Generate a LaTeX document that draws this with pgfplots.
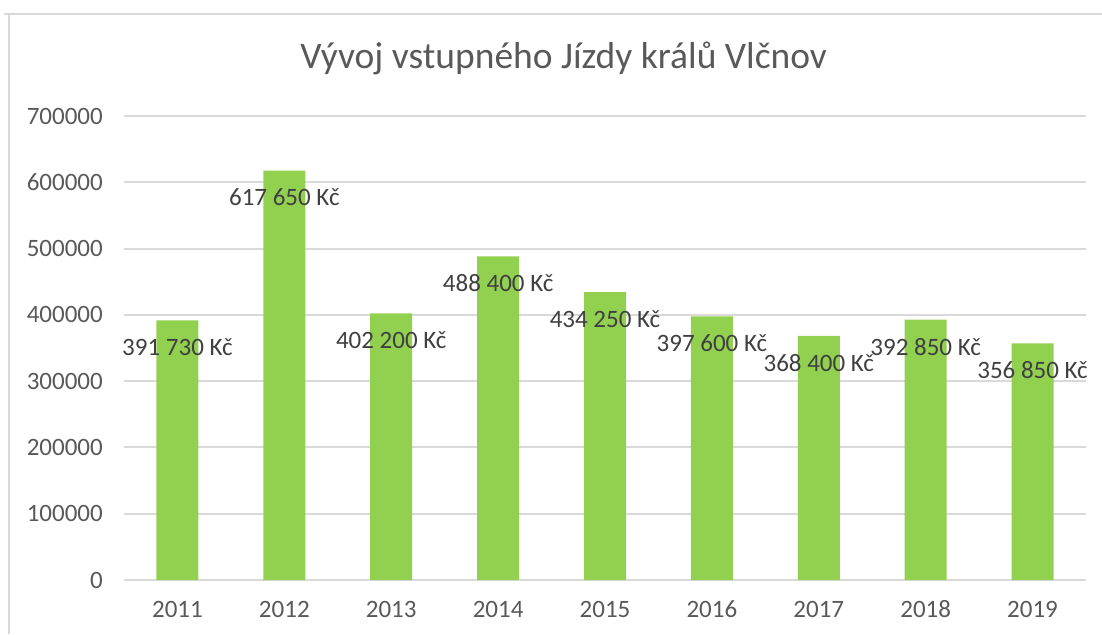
\documentclass[border=0pt]{standalone}
\usepackage{fontspec}
\setmainfont{Carlito}
\usepackage{pgfplots}
\pgfplotsset{compat=1.18}
\definecolor{barg}{HTML}{92D050}
\definecolor{gridc}{HTML}{D9D9D9}
\definecolor{tickc}{HTML}{595959}
\definecolor{labc}{HTML}{404040}
\begin{document}
\begin{tikzpicture}[x=1pt,y=1pt]
\path[use as bounding box] (0,0) rectangle (1102,634);
\draw[gridc, line width=2pt] (4,620) -- (1102,620);
\draw[gridc, line width=2pt] (9,620) -- (9,0);
\begin{axis}[
  at={(124pt,54pt)}, anchor=south west,
  scale only axis, width=962pt, height=464pt,
  xmin=-0.5, xmax=8.5, ymin=0, ymax=700000,
  ytick={0,100000,200000,300000,400000,500000,600000,700000},
  scaled y ticks=false,
  xtick={0,1,2,3,4,5,6,7,8},
  xticklabels={2011,2012,2013,2014,2015,2016,2017,2018,2019},
  major tick length=0pt,
  axis line style={draw=none},
  ymajorgrids, grid style={gridc, line width=2pt},
  /pgf/number format/assume math mode=true,
  yticklabel style={/pgf/number format/fixed, /pgf/number format/1000 sep={},
    anchor=east, inner sep=0pt, xshift=-21pt, font=\fontsize{25}{30}\selectfont, text=tickc},
  xticklabel style={anchor=center, inner sep=0pt, yshift=-29pt, font=\fontsize{25}{30}\selectfont, text=tickc},
  title={Vývoj vstupného Jízdy králů Vlčnov},
  title style={at={(0.457,1)}, anchor=center, yshift=52pt, inner sep=0pt,
    font=\fontsize{37.5}{44}\selectfont, text=tickc},
  ybar, bar width=42pt,
  nodes near coords={\pgfmathprintnumber[fixed,precision=0,1000 sep={\ }]{\pgfplotspointmeta}\ Kč},
  every node near coord/.append style={anchor=center, yshift=-27pt, inner sep=0pt,
    font=\fontsize{25}{30}\selectfont, text=labc},
]
\addplot[fill=barg, draw=none] coordinates {
(0,391730) (1,617650) (2,402200) (3,488400) (4,434250)
(5,397600) (6,368400) (7,392850) (8,356850)
};
\end{axis}
\end{tikzpicture}
\end{document}
